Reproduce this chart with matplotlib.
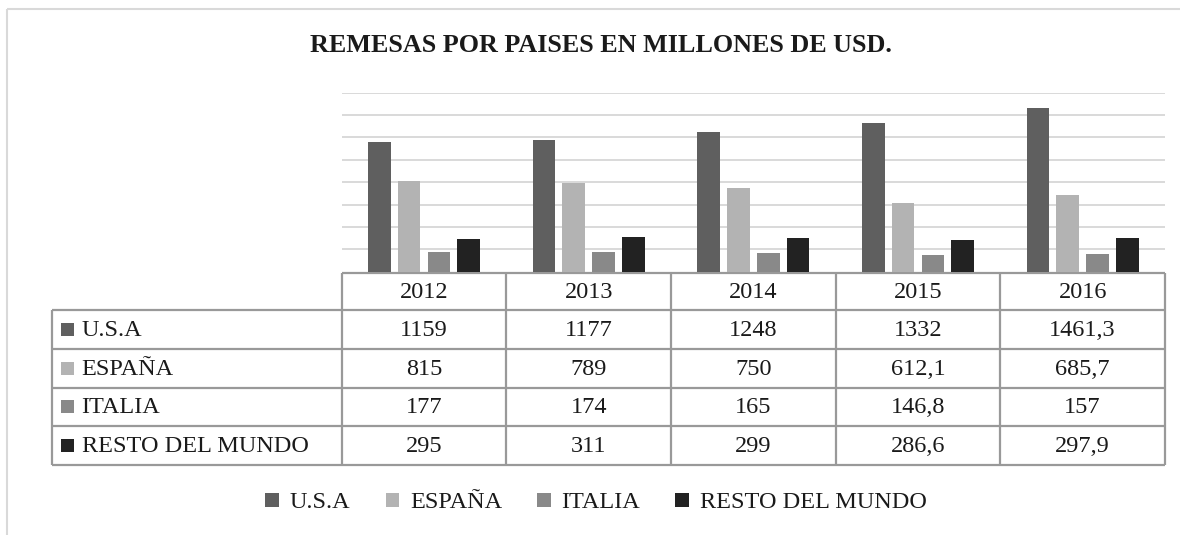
import matplotlib
matplotlib.use("Agg")
import matplotlib.pyplot as plt
from matplotlib.transforms import blended_transform_factory
from matplotlib.patches import Rectangle
import numpy as np

years = ["2012", "2013", "2014", "2015", "2016"]
series_names = ["U.S.A", "ESPAÑA", "ITALIA", "RESTO DEL MUNDO"]
usa = [1159, 1177, 1248, 1332, 1461.3]
espana = [815, 789, 750, 612.1, 685.7]
italia = [177, 174, 165, 146.8, 157]
resto = [295, 311, 299, 286.6, 297.9]
colors = ["#5f5f5f", "#b3b3b3", "#898989", "#222222"]
title = "REMESAS POR PAISES EN MILLONES DE USD."

series = [usa, espana, italia, resto]

plt.rcParams['font.family'] = ['Liberation Serif', 'DejaVu Serif']

W, H = 1180, 535
fig = plt.figure(figsize=(W / 100, H / 100), dpi=100)
fig.patch.set_facecolor("white")

# overlay axes in pixel coordinates
ov = fig.add_axes([0, 0, 1, 1], zorder=0)
ov.set_xlim(0, W)
ov.set_ylim(H, 0)
ov.axis("off")

# chart area border (partially visible)
ov.plot([7, 7], [9, H], color="#d9d9d9", lw=1.5, solid_capstyle="butt")
ov.plot([7, W], [9, 9], color="#d9d9d9", lw=1.5, solid_capstyle="butt")

# plot area
px_left, px_right = 341.7, 1165
px_top, px_bot = 92.7, 271.7
ax = fig.add_axes([px_left / W, 1 - px_bot / H, (px_right - px_left) / W, (px_bot - px_top) / H], zorder=1)
ax.patch.set_alpha(0)
x = np.arange(len(years))
bw = 0.1376
step = 0.181
for i, (vals, c, name) in enumerate(zip(series, colors, series_names)):
    ax.bar(x + (i - 1.5) * step, vals, width=bw, color=c, label=name, zorder=3, linewidth=0)
ax.set_xlim(-0.5, len(years) - 0.5)
ax.set_ylim(0, 1600)
ax.set_yticks(np.arange(200, 1601, 200))
ax.yaxis.grid(True, color="#d9d9d9", lw=1.4, zorder=0)
ax.tick_params(left=False, bottom=False, labelleft=False, labelbottom=False)
for s in ax.spines.values():
    s.set_visible(False)

# title
fig.text(601 / W, 1 - 45 / H, title, ha="center", va="center", fontsize=18.8, fontweight="bold",
         color="#1a1a1a")

# data table
tr = blended_transform_factory(ax.transData, ov.transData)
line_c = "#999999"
lw = 1.6
row_edges = [272.7, 310, 349, 387.7, 426, 465]
tab_left = 52.3
fsz = 17.5
txt_c = "#1a1a1a"

# horizontal lines
ov.plot([px_left, px_right], [row_edges[0]] * 2, color=line_c, lw=lw, solid_capstyle="butt", zorder=2)
for yv in row_edges[1:]:
    ov.plot([tab_left, px_right], [yv] * 2, color=line_c, lw=lw, solid_capstyle="butt", zorder=2)
# vertical lines
for b in np.arange(-0.5, len(years), 1.0):
    ov.plot([b, b], [row_edges[0], row_edges[-1]], color=line_c, lw=lw, transform=tr,
            solid_capstyle="butt", zorder=2)
ov.plot([tab_left, tab_left], [row_edges[1], row_edges[-1]], color=line_c, lw=lw,
        solid_capstyle="butt", zorder=2)


def fmt(v):
    if float(v).is_integer():
        return str(int(v))
    return ("%g" % v).replace(".", ",")


# header
for j, yr in enumerate(years):
    ov.text(j, (row_edges[0] + row_edges[1]) / 2 + 1, yr, transform=tr, ha="center", va="center",
            fontsize=fsz, color=txt_c)
# rows
for i, (vals, c, name) in enumerate(zip(series, colors, series_names)):
    yc = (row_edges[i + 1] + row_edges[i + 2]) / 2
    ov.add_patch(Rectangle((61, yc - 6.5), 13, 13, facecolor=c, edgecolor="none"))
    ov.text(81.5, yc + 1, name, ha="left", va="center", fontsize=fsz, color=txt_c)
    for j, v in enumerate(vals):
        ov.text(j, yc + 1, fmt(v), transform=tr, ha="center", va="center", fontsize=fsz, color=txt_c)

# legend
handles, labels = ax.get_legend_handles_labels()
fig.legend(handles, labels, loc="center", bbox_to_anchor=(596 / W, 1 - 503 / H), ncol=4,
           frameon=False, fontsize=fsz, handlelength=0.55, handleheight=0.55,
           handletextpad=0.45, columnspacing=1.45, labelcolor=txt_c)

fig.savefig("out.png", dpi=100, facecolor="white")
